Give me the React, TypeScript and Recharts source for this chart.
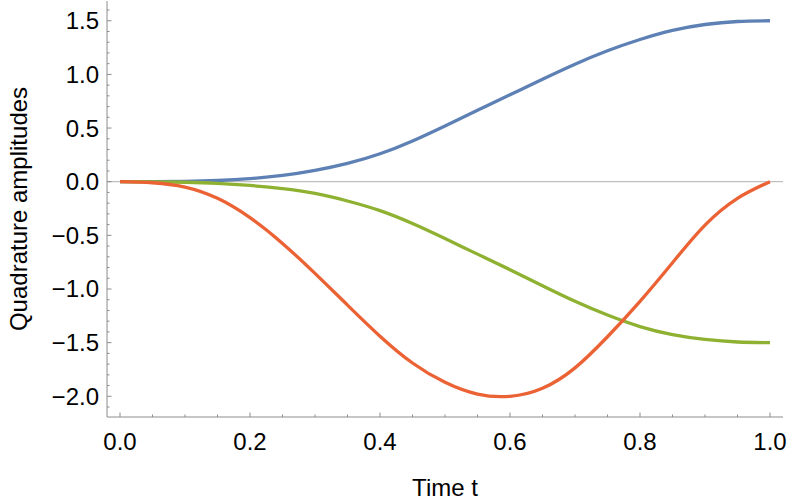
import React from 'react';
import { LineChart, Line, XAxis, YAxis, ReferenceLine } from 'recharts';

// time samples and the three quadrature curves
const timeValues = [0, 0.05, 0.1, 0.15, 0.2, 0.25, 0.3, 0.35, 0.4, 0.45, 0.5, 0.55, 0.6, 0.65, 0.7, 0.75, 0.8, 0.85, 0.9, 0.95, 1.0];
const blueValues = [0, 0.0005, 0.003, 0.011, 0.028, 0.058, 0.105, 0.17, 0.26, 0.38, 0.52, 0.665, 0.81, 0.955, 1.095, 1.22, 1.325, 1.41, 1.465, 1.493, 1.5];
const greenValues = [0, -0.001, -0.005, -0.015, -0.035, -0.065, -0.11, -0.18, -0.27, -0.39, -0.53, -0.675, -0.82, -0.97, -1.115, -1.243, -1.35, -1.425, -1.47, -1.494, -1.5];
const orangeValues = [0, -0.01, -0.05, -0.155, -0.335, -0.575, -0.855, -1.15, -1.44, -1.69, -1.87, -1.98, -2.0, -1.925, -1.735, -1.445, -1.115, -0.755, -0.405, -0.155, 0];

const xMajorTicks = [0, 0.2, 0.4, 0.6, 0.8, 1.0];
const xMinorTicks = [0.05, 0.1, 0.15, 0.25, 0.3, 0.35, 0.45, 0.5, 0.55, 0.65, 0.7, 0.75, 0.85, 0.9, 0.95];
const yMajorTicks = [-2.0, -1.5, -1.0, -0.5, 0, 0.5, 1.0, 1.5];
const yMinorTicks = [-2.1, -1.9, -1.8, -1.7, -1.6, -1.4, -1.3, -1.2, -1.1, -0.9, -0.8, -0.7, -0.6, -0.4, -0.3, -0.2, -0.1, 0.1, 0.2, 0.3, 0.4, 0.6, 0.7, 0.8, 0.9, 1.1, 1.2, 1.3, 1.4, 1.6];

const data = timeValues.map((t, i) => ({
  t,
  blue: blueValues[i],
  green: greenValues[i],
  orange: orangeValues[i],
}));

const FRAME = '#8c8c8c';
const FONT = '"Liberation Sans", Arial, sans-serif';
const xTicks = [...xMajorTicks, ...xMinorTicks].sort((a, b) => a - b);
const yTicks = [...yMajorTicks, ...yMinorTicks].sort((a, b) => a - b);
const isMajor = (list: number[], v: number) => list.some((m) => Math.abs(m - v) < 1e-6);

const BottomTick = (props: any) => {
  const { x, y, payload } = props;
  const major = isMajor(xMajorTicks, payload.value);
  return (
    <g>
      <line x1={x} x2={x} y1={y} y2={y - (major ? 4.5 : 2.5)} stroke={FRAME} />
      {major && (
        <text x={x} y={y + 33} textAnchor="middle" fontSize={24} fontFamily={FONT} fill="#000">
          {payload.value.toFixed(1)}
        </text>
      )}
    </g>
  );
};

const TopTick = (props: any) => {
  const { x, y, payload } = props;
  const major = isMajor(xMajorTicks, payload.value);
  return <line x1={x} x2={x} y1={y} y2={y + (major ? 4.5 : 2.5)} stroke={FRAME} />;
};

const LeftTick = (props: any) => {
  const { x, y, payload } = props;
  const major = isMajor(yMajorTicks, payload.value);
  const v = payload.value;
  const label = (v < 0 ? '\u2212' : '') + Math.abs(v).toFixed(1);
  return (
    <g>
      <line x1={x} x2={x + (major ? 4.5 : 2.5)} y1={y} y2={y} stroke={FRAME} />
      {major && (
        <text x={x - 8} y={y + 8.5} textAnchor="end" fontSize={24} fontFamily={FONT} fill="#000">
          {label}
        </text>
      )}
    </g>
  );
};

const RightTick = (props: any) => {
  const { x, y, payload } = props;
  const major = isMajor(yMajorTicks, payload.value);
  return <line x1={x} x2={x - (major ? 4.5 : 2.5)} y1={y} y2={y} stroke={FRAME} />;
};

const YTitle = (props: any) => {
  const vb = props.viewBox;
  const cx = vb.x + 27;
  const cy = vb.y + vb.height / 2;
  return (
    <text x={cx} y={cy} transform={`rotate(-90, ${cx}, ${cy})`} textAnchor="middle" fontSize={24} fontFamily={FONT} fill="#000">
      Quadrature amplitudes
    </text>
  );
};

const XTitle = (props: any) => {
  const vb = props.viewBox;
  return (
    <text x={vb.x + vb.width / 2} y={vb.y + 79} textAnchor="middle" fontSize={24} fontFamily={FONT} fill="#000">
      Time t
    </text>
  );
};

export default function App() {
  return (
    <div style={{ position: 'absolute', left: 0, top: 0, background: '#fff' }}>
      <LineChart width={789} height={504} data={data} margin={{ top: 1, right: 6, bottom: 0, left: 0 }}>
        <XAxis
          xAxisId="b"
          dataKey="t"
          type="number"
          domain={[-0.02, 1.02]}
          allowDataOverflow
          ticks={xTicks}
          interval={0}
          tickSize={0}
          tickMargin={0}
          tickLine={false}
          tick={<BottomTick />}
          axisLine={{ stroke: FRAME }}
          height={87}
          label={<XTitle />}
        />
        <XAxis
          xAxisId="t"
          orientation="top"
          dataKey="t"
          type="number"
          domain={[-0.02, 1.02]}
          allowDataOverflow
          ticks={xTicks}
          interval={0}
          tickSize={0}
          tickMargin={0}
          tickLine={false}
          tick={<TopTick />}
          axisLine={{ stroke: FRAME }}
          height={0}
        />
        <YAxis
          yAxisId="l"
          type="number"
          domain={[-2.193, 1.684]}
          allowDataOverflow
          ticks={yTicks}
          interval={0}
          tickSize={0}
          tickMargin={0}
          tickLine={false}
          tick={<LeftTick />}
          axisLine={{ stroke: FRAME }}
          width={107}
          label={<YTitle />}
        />
        <YAxis
          yAxisId="r"
          orientation="right"
          type="number"
          domain={[-2.193, 1.684]}
          allowDataOverflow
          ticks={yTicks}
          interval={0}
          tickSize={0}
          tickMargin={0}
          tickLine={false}
          tick={<RightTick />}
          axisLine={{ stroke: FRAME }}
          width={0}
        />
        <ReferenceLine xAxisId="b" yAxisId="l" y={0} stroke="#b0b0b0" strokeWidth={1} />
        <Line xAxisId="b" yAxisId="l" type="natural" dataKey="blue" stroke="#5E81B5" strokeWidth={3.3} dot={false} isAnimationActive={false} />
        <Line xAxisId="b" yAxisId="l" type="natural" dataKey="green" stroke="#8FB131" strokeWidth={3.3} dot={false} isAnimationActive={false} />
        <Line xAxisId="b" yAxisId="l" type="natural" dataKey="orange" stroke="#EB6235" strokeWidth={3.3} dot={false} isAnimationActive={false} />
      </LineChart>
    </div>
  );
}
